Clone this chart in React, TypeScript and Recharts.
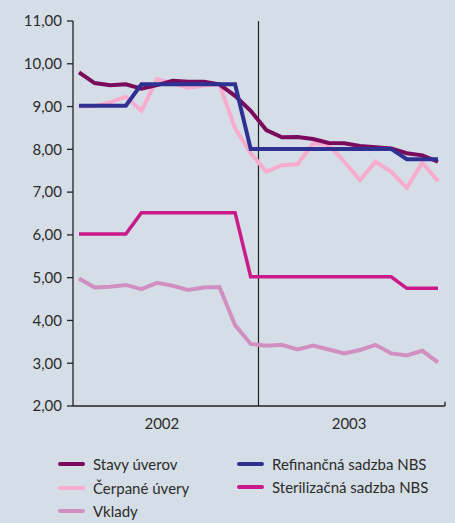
import React from "react";
import { LineChart, Line, XAxis, YAxis, ReferenceLine } from "recharts";

const months = [1,2,3,4,5,6,7,8,9,10,11,12,13,14,15,16,17,18,19,20,21,22,23,24];
const stavyUverov = [9.80,9.55,9.50,9.52,9.42,9.50,9.60,9.58,9.58,9.52,9.25,8.90,8.45,8.28,8.29,8.24,8.15,8.14,8.08,8.05,8.02,7.91,7.86,7.71];
const cerpaneUvery = [9.00,9.01,9.10,9.23,8.90,9.64,9.54,9.44,9.49,9.52,8.49,7.91,7.48,7.63,7.65,8.14,8.10,7.71,7.28,7.71,7.48,7.10,7.69,7.26];
const refinancna = [9.02,9.02,9.02,9.02,9.52,9.52,9.52,9.52,9.52,9.52,9.52,8.01,8.01,8.01,8.01,8.01,8.01,8.01,8.01,8.01,8.01,7.77,7.77,7.77];
const sterilizacna = [6.02,6.02,6.02,6.02,6.52,6.52,6.52,6.52,6.52,6.52,6.52,5.02,5.02,5.02,5.02,5.02,5.02,5.02,5.02,5.02,5.02,4.75,4.75,4.75];
const vklady = [4.98,4.77,4.79,4.83,4.73,4.88,4.81,4.71,4.77,4.78,3.89,3.45,3.41,3.43,3.32,3.41,3.32,3.23,3.31,3.43,3.23,3.18,3.29,3.02];

const yTicks = [2,3,4,5,6,7,8,9,10,11];
const yearTicks = [6.5, 18.5];
const yearLabels = ["2002", "2003"];
const yearBoundary = 12.5;
const xMin = 0.615;
const xMax = 24.45;

const seriesNames = {
  stavy: "Stavy úverov",
  cerpane: "Čerpané úvery",
  vklady: "Vklady",
  refin: "Refinančná sadzba NBS",
  steril: "Sterilizačná sadzba NBS",
};

const colors = {
  stavy: "#7a0a5c",
  cerpane: "#f7abcd",
  vklady: "#d18fc1",
  refin: "#2f3192",
  steril: "#c9198b",
};

const data = months.map((m, i) => ({
  m,
  stavy: stavyUverov[i],
  cerpane: cerpaneUvery[i],
  refin: refinancna[i],
  steril: sterilizacna[i],
  vklady: vklady[i],
}));

const FONT = "Lato, 'Open Sans', sans-serif";
const TEXT = "#2b2b2b";

const YearTick = (props: any) => {
  const { x, y, payload } = props;
  const idx = yearTicks.indexOf(payload.value);
  return (
    <text x={x - 3} y={y + 15} textAnchor="middle" fontFamily={FONT} fontSize={15} fill={TEXT}>
      {yearLabels[idx]}
    </text>
  );
};

const fmt = (v: number) => v.toFixed(2).replace(".", ",");

const LegendItem = ({ k, x, y }: { k: keyof typeof colors; x: number; y: number }) => (
  <div style={{ position: "absolute", left: x, top: y, display: "flex", alignItems: "center", fontFamily: FONT, fontSize: 15, color: TEXT, whiteSpace: "nowrap" }}>
    <div style={{ width: 27, height: 4, borderRadius: 2, background: colors[k], marginRight: 8 }} />
    <span>{seriesNames[k]}</span>
  </div>
);

export default function App() {
  return (
    <div style={{ position: "absolute", left: 0, top: 0, width: 455, height: 523, background: "#d5dee6", overflow: "hidden" }}>
      <LineChart width={455} height={440} data={data} margin={{ top: 21, right: 10, left: 0, bottom: 4 }}>
        <XAxis
          dataKey="m"
          type="number"
          domain={[xMin, xMax]}
          ticks={yearTicks}
          tick={<YearTick />}
          tickLine={false}
          axisLine={{ stroke: "#222", strokeWidth: 1.3 }}
          height={30}
          allowDataOverflow
        />
        <YAxis
          type="number"
          domain={[2, 11]}
          ticks={yTicks}
          tickFormatter={fmt}
          width={73}
          tickSize={6}
          tickMargin={5}
          tick={{ fontFamily: FONT, fontSize: 15, fill: TEXT }}
          tickLine={{ stroke: "#222", strokeWidth: 1.3 }}
          axisLine={{ stroke: "#222", strokeWidth: 1.3 }}
          interval={0}
        />
        <ReferenceLine x={yearBoundary} stroke="#222" strokeWidth={1.2} />
        <ReferenceLine segment={[{ x: xMax, y: 2 }, { x: xMax, y: 2.1 }]} stroke="#222" strokeWidth={1.3} ifOverflow="visible" />
        <Line type="linear" dataKey="vklady" stroke={colors.vklady} strokeWidth={4} dot={false} isAnimationActive={false} />
        <Line type="linear" dataKey="steril" stroke={colors.steril} strokeWidth={3.5} dot={false} isAnimationActive={false} />
        <Line type="linear" dataKey="cerpane" stroke={colors.cerpane} strokeWidth={4} dot={false} isAnimationActive={false} />
        <Line type="linear" dataKey="stavy" stroke={colors.stavy} strokeWidth={4} dot={false} isAnimationActive={false} />
        <Line type="linear" dataKey="refin" stroke={colors.refin} strokeWidth={4} dot={false} isAnimationActive={false} />
      </LineChart>
      <LegendItem k="stavy" x={58} y={455} />
      <LegendItem k="cerpane" x={58} y={479} />
      <LegendItem k="vklady" x={58} y={502} />
      <LegendItem k="refin" x={237} y={455} />
      <LegendItem k="steril" x={237} y={478} />
    </div>
  );
}
